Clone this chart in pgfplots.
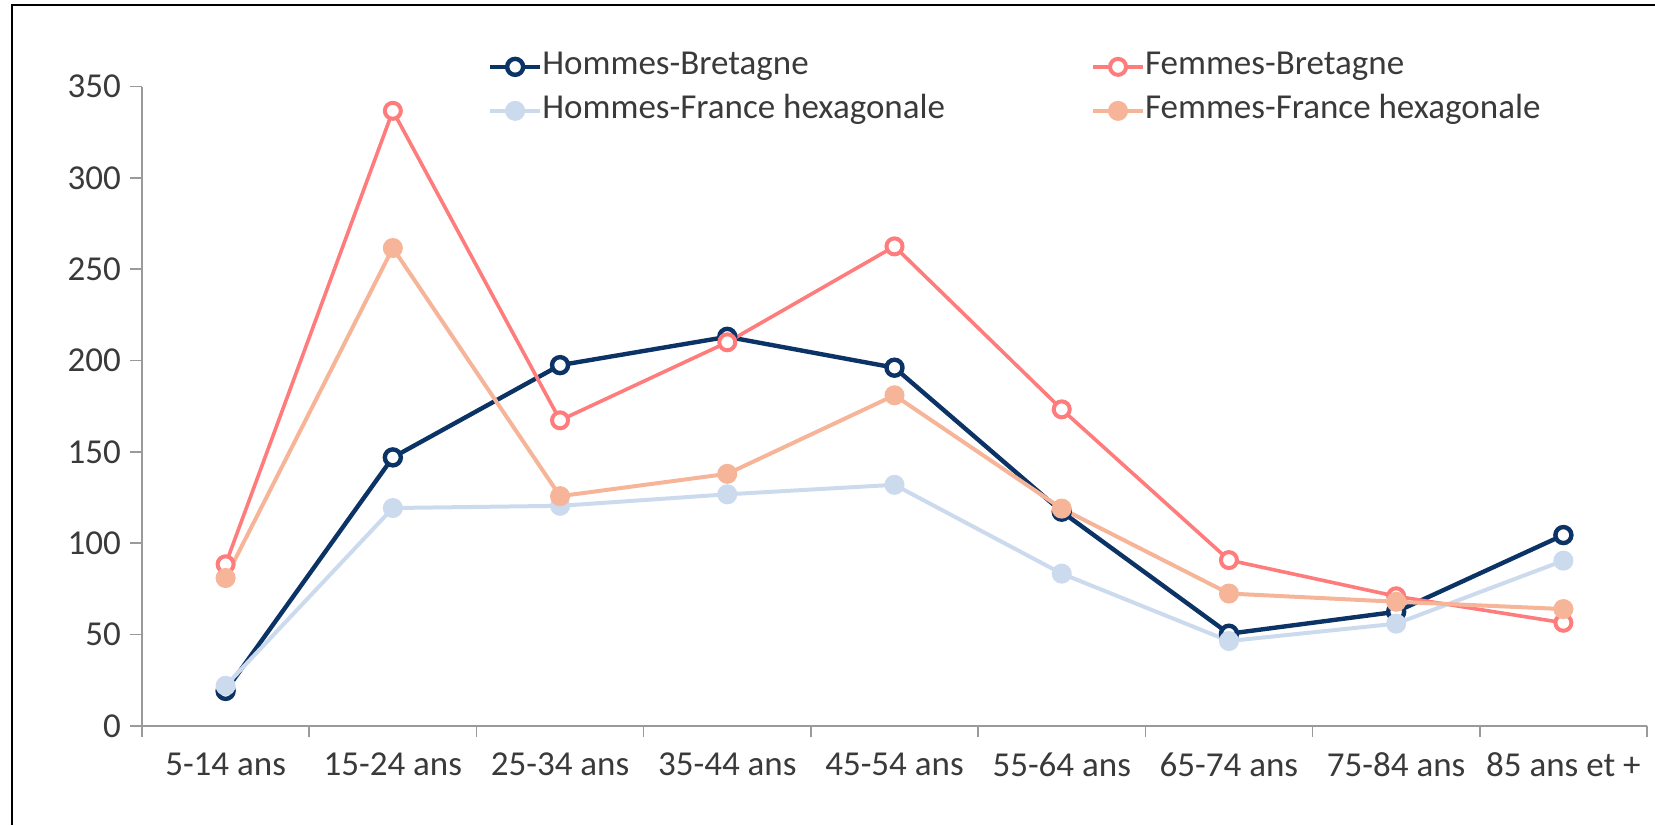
\documentclass[border=0pt]{standalone}
\usepackage{pgfplots}
\pgfplotsset{compat=1.18}
\usepackage{fontspec}
\setmainfont{Carlito}
\definecolor{hb}{HTML}{0B3366}
\definecolor{fb}{HTML}{FF7C7C}
\definecolor{hf}{HTML}{CCDAEE}
\definecolor{ff}{HTML}{F6B598}
\definecolor{axgray}{HTML}{9A9A9A}
\definecolor{txt}{HTML}{3A3A3A}
\begin{document}
\begin{tikzpicture}
\path[use as bounding box] (0,0) rectangle (827.5pt,412.5pt);
\draw[black, line width=1.2pt] (6pt,0) -- (6pt,410pt) -- (827.5pt,410pt);
\begin{axis}[
  at={(71pt,49.5pt)}, anchor=south west,
  scale only axis, width=752.5pt, height=319.75pt,
  xmin=-0.5, xmax=8.5, ymin=0, ymax=350,
  axis x line*=bottom, axis y line*=left,
  axis line style={axgray, line width=1pt, -},
  xtick={0,...,8}, major x tick style={draw=none},
  xticklabels={5-14 ans,15-24 ans,25-34 ans,35-44 ans,45-54 ans,55-64 ans,65-74 ans,75-84 ans,85 ans et +},
  minor xtick={-0.5,0.5,...,8.5},
  minor tick length=5.5pt,
  minor x tick style={axgray, line width=0.8pt},
  ytick={0,50,...,350},
  major tick length=6pt,
  y tick style={axgray, line width=0.8pt},
  tick align=outside,
  tick label style={font=\fontsize{17.5}{21}\selectfont, text=txt},
  xticklabel style={yshift=-4pt},
  yticklabel style={xshift=-1pt},
  /pgf/number format/assume math mode=true,
  clip=false,
  legend columns=2,
  legend style={draw=none, fill=none, at={(0.2296,0.9963)}, anchor=west, inner sep=0pt,
    font=\fontsize{17.5}{21}\selectfont, text=txt,
    nodes={inner sep=0pt, text height=12pt, text depth=4pt},
    row sep=6pt,
    /tikz/every even column/.append style={column sep=73pt}},
  legend cell align=left,
  legend image code/.code={
    \draw[#1, mark=none] (0pt,0pt) -- (25pt,0pt);
    \draw[#1, only marks] plot coordinates {(12.5pt,0pt)};
  },
]
\addplot[hb, line width=2.2pt, mark=*, mark size=4pt, mark options={fill=white, draw=hb, line width=2.2pt}]
 coordinates {(0,19.2) (1,147) (2,197.5) (3,213) (4,196.1) (5,117.3) (6,50.5) (7,62.5) (8,104.5)};
\addlegendentry{Hommes-Bretagne}
\addplot[fb, line width=1.8pt, mark=*, mark size=4pt, mark options={fill=white, draw=fb, line width=2pt}]
 coordinates {(0,88.5) (1,336.7) (2,167.3) (3,210) (4,262.5) (5,173.3) (6,90.8) (7,71) (8,56.5)};
\addlegendentry{Femmes-Bretagne}
\addplot[hf, line width=2pt, mark=*, mark size=4pt, mark options={fill=hf, draw=hf}]
 coordinates {(0,22) (1,119.3) (2,120.5) (3,126.8) (4,132) (5,83.4) (6,46.5) (7,56) (8,90.5)};
\addlegendentry{Hommes-France hexagonale}
\addplot[ff, line width=2pt, mark=*, mark size=4pt, mark options={fill=ff, draw=ff}]
 coordinates {(0,81) (1,261.6) (2,125.8) (3,138) (4,181) (5,119) (6,72.5) (7,68) (8,64)};
\addlegendentry{Femmes-France hexagonale}
\end{axis}
\end{tikzpicture}
\end{document}
